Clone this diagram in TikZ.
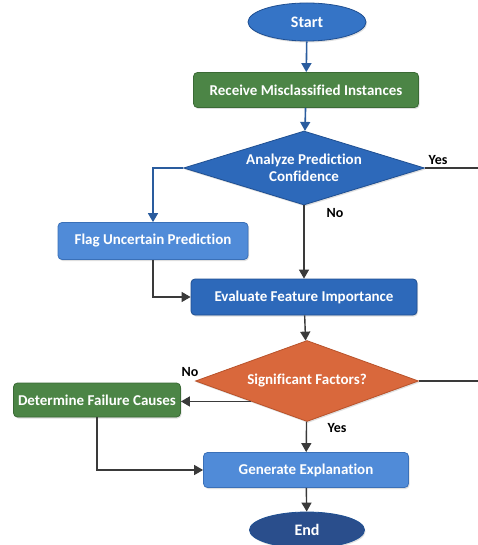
\documentclass[tikz,border=0pt]{standalone}
\usepackage{fontspec}
\setmainfont{Carlito}[Ligatures=NoCommon]
\usetikzlibrary{shapes.geometric,arrows.meta,shadows}
\definecolor{lineC}{HTML}{3A3A3A}
\definecolor{blueline}{HTML}{2A5C9E}
\definecolor{startC}{HTML}{3574C6}
\definecolor{greenC}{HTML}{4C8546}
\definecolor{greenD}{HTML}{3A6A35}
\definecolor{blueC}{HTML}{2D69BA}
\definecolor{blueD}{HTML}{1F4F91}
\definecolor{lblueC}{HTML}{508BD8}
\definecolor{lblueD}{HTML}{3A70B8}
\definecolor{orangeC}{HTML}{D9683C}
\definecolor{orangeD}{HTML}{B8522A}
\definecolor{navyC}{HTML}{2A4E8C}
\tikzset{
  txt/.style={font=\fontsize{15}{17}\selectfont\bfseries, text=white},
  base/.style={txt, line width=0.8pt,
    drop shadow={shadow xshift=1pt, shadow yshift=-1.5pt, opacity=0.25}},
  boxst/.style={base, rectangle, rounded corners=4pt, inner sep=0pt},
  ovalst/.style={base, ellipse, inner sep=0pt},
  decst/.style={base, diamond, inner sep=0pt},
  dtext/.style={txt, align=center, inner sep=0pt},
  arr/.style={-{Triangle[length=9pt,width=10pt]}, line width=1.4pt, draw=lineC},
  barr/.style={-{Triangle[length=9pt,width=10pt]}, line width=1.6pt, draw=blueline},
  plain/.style={line width=1.3pt, draw=lineC},
  lab/.style={font=\fontsize{14}{16}\selectfont\bfseries, text=black, inner sep=0pt}
}
\begin{document}
\begin{tikzpicture}[x=1pt,y=-1pt]
\useasboundingbox (0,0) rectangle (478,545);
\fill[white] (0,0) rectangle (478,545);
\node[ovalst, fill=startC, draw=blueD, minimum width=118pt, minimum height=38pt, font=\fontsize{16}{18}\selectfont\bfseries] (start) at (307,22) {Start};
\node[boxst, fill=greenC, draw=greenD, minimum width=225pt, minimum height=35pt] (recv) at (306,90) {Receive Misclassified Instances};
\node[decst, fill=blueC, draw=blueD, minimum width=241pt, minimum height=74pt] (d1) at (304,168) {};
\node[dtext] (d1t) at (d1) {Analyze Prediction\\Confidence};
\node[boxst, fill=lblueC, draw=lblueD, minimum width=190pt, minimum height=37pt] (flag) at (153,241) {Flag Uncertain Prediction};
\node[boxst, fill=blueC, draw=blueD, minimum width=226pt, minimum height=36pt] (eval) at (304,297) {Evaluate Feature Importance};
\node[decst, fill=orangeC, draw=orangeD, minimum width=223pt, minimum height=81pt] (d2) at (307,381) {};
\node[dtext] (d2t) at (d2) {Significant Factors?};
\node[boxst, fill=greenC, draw=greenD, minimum width=167pt, minimum height=34pt] (det) at (97,400) {Determine Failure Causes};
\node[boxst, fill=lblueC, draw=lblueD, minimum width=205pt, minimum height=35pt] (gen) at (306,470) {Generate Explanation};
\node[ovalst, fill=navyC, draw=blueD, minimum width=115pt, minimum height=36pt, font=\fontsize{16}{18}\selectfont\bfseries] (end) at (307,530) {End};
\coordinate (yes1) at (478,168);
\coordinate (yes2) at (478,381);
\draw[barr] (start) -- (recv);
\draw[barr] (recv) -- (d1);
\draw[barr] (d1.west) -| (flag.north);
\draw[plain] (d1.east) -- (yes1);
\draw[arr] (d1) -- (eval);
\draw[arr] (flag.south) |- (eval.west);
\draw[arr] (eval) -- (d2);
\draw[arr] (d2.south west) -- (d2.south west -| det.east);
\draw[plain] (d2.east) -- (yes2);
\draw[arr] (d2) -- (gen);
\draw[arr] (det.south) |- (gen.west);
\draw[arr] (gen) -- (end);
\node[lab] (lyes1) at (438,160) {Yes};
\node[lab] (lno1) at (335,213) {No};
\node[lab] (lno2) at (190,372) {No};
\node[lab] (lyes2) at (337,428) {Yes};
\end{tikzpicture}
\end{document}
